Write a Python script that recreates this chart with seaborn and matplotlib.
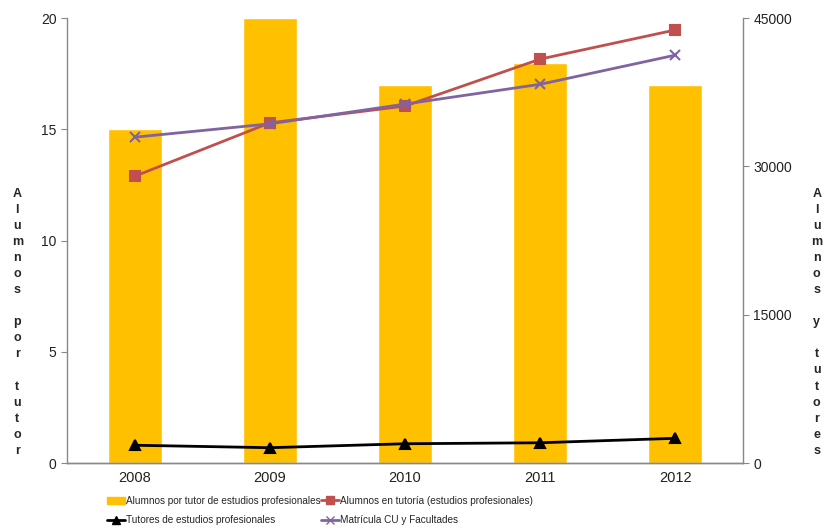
import pandas as pd
import seaborn as sns
import matplotlib.pyplot as plt
from matplotlib.patches import Patch
from matplotlib.lines import Line2D

# datos
years = ['2008', '2009', '2010', '2011', '2012']
alumnos_por_tutor = [15, 20, 17, 18, 17]
alumnos_tutoria = [29000, 34400, 36100, 40850, 43800]
matricula = [32950, 34300, 36300, 38300, 41250]
tutores = [1800, 1550, 1950, 2050, 2500]

df = pd.DataFrame({
    'Año': years,
    'Alumnos por tutor': alumnos_por_tutor,
    'Alumnos en tutoría': alumnos_tutoria,
    'Matrícula': matricula,
    'Tutores': tutores,
})

sns.set_style("white")
plt.rcParams['font.family'] = ['Liberation Sans', 'DejaVu Sans']

fig = plt.figure(figsize=(8.25, 5.31), dpi=100)
ax = fig.add_axes([0.0812, 0.128, 0.8194, 0.838])

sns.barplot(data=df, x='Año', y='Alumnos por tutor', color='#FFC000',
            saturation=1, width=0.4, ax=ax)
ax.set_ylim(0, 20)
ax.set_yticks([0, 5, 10, 15, 20])

ax2 = ax.twinx()
sns.pointplot(data=df, x='Año', y='Alumnos en tutoría', color='#C0504D',
              marker='s', markersize=6.5, linewidth=2, ax=ax2)
sns.pointplot(data=df, x='Año', y='Matrícula', color='#8064A2',
              marker='x', markersize=7, linewidth=2, ax=ax2)
sns.pointplot(data=df, x='Año', y='Tutores', color='black',
              marker='^', markersize=6.5, linewidth=2, ax=ax2)
ax2.set_ylim(0, 45000)
ax2.set_yticks([0, 15000, 30000, 45000])
ax.set_xlim(-0.5, 4.5)

for a in (ax, ax2):
    a.set_xlabel('')
    a.set_ylabel('')
    a.spines['top'].set_visible(False)
    for s in ('left', 'right', 'bottom'):
        a.spines[s].set_color('#888888')
        a.spines[s].set_linewidth(1)
    a.tick_params(axis='y', length=4, color='#888888', labelsize=10,
                  labelcolor='#222222')
ax2.spines['left'].set_visible(False)
ax.spines['right'].set_visible(False)

ax.set_xticks(range(5))
ax.set_xticklabels(years)
ax.tick_params(axis='x', length=0, labelsize=10.5, labelcolor='#222222', pad=6)
ax.set_xticks([i - 0.5 for i in range(6)], minor=True)
ax.tick_params(axis='x', which='minor', length=5, color='#888888')
ax.tick_params(axis='y', left=True, right=False)
ax2.tick_params(axis='y', right=True, left=False)

# etiquetas verticales letra a letra
fig.text(0.021, 0.393, '\n'.join('Alumnos por tutor'), ha='center', va='center',
         fontsize=9, fontweight='bold', linespacing=1.45)
fig.text(0.990, 0.393, '\n'.join('Alumnos y tutores'), ha='center', va='center',
         fontsize=9, fontweight='bold', linespacing=1.45)

handles = [
    Patch(color='#FFC000'),
    Line2D([], [], color='black', marker='^', markersize=6, linewidth=2),
    Line2D([], [], color='#C0504D', marker='s', markersize=6, linewidth=2),
    Line2D([], [], color='#8064A2', marker='x', markersize=6, linewidth=2),
]
labels = [
    'Alumnos por tutor de estudios profesionales',
    'Tutores de estudios profesionales',
    'Alumnos en tutoría (estudios profesionales)',
    'Matrícula CU y Facultades',
]
fig.legend(handles, labels, ncol=2, loc='upper left',
           bbox_to_anchor=(0.1235, 0.076), frameon=False,
           handlelength=1.8, handletextpad=0.1, columnspacing=0.05,
           borderpad=0, labelspacing=0.95,
           prop={'size': 7.2})

plt.savefig('out.png', dpi=100)
